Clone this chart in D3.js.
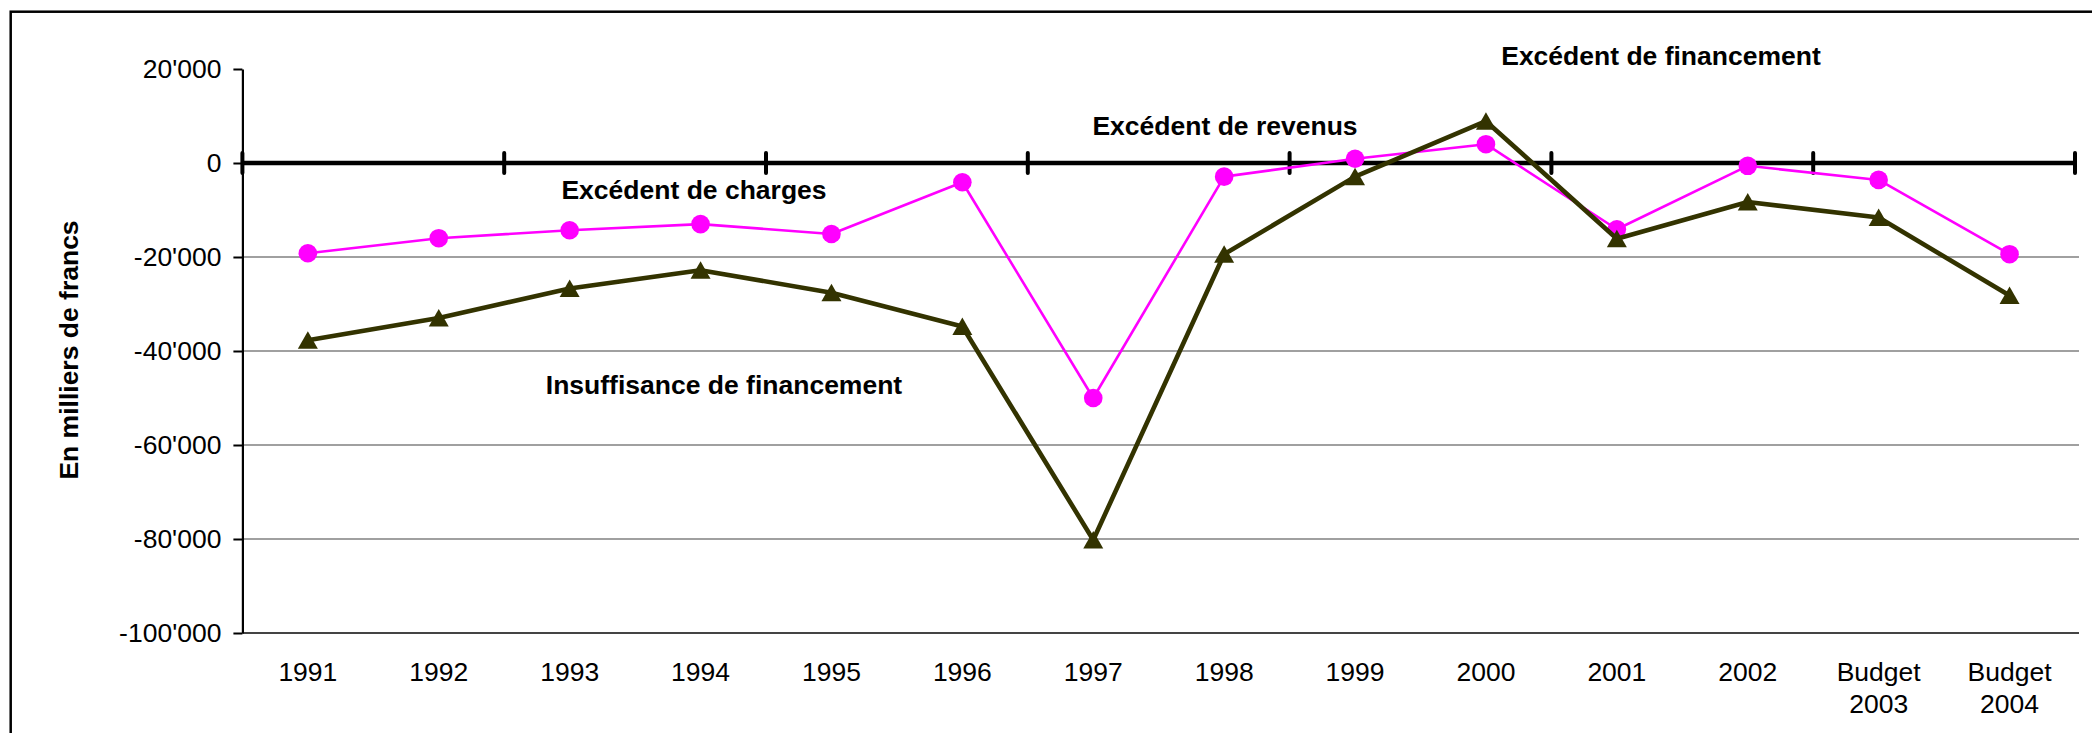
<!DOCTYPE html>
<html>
<head>
<meta charset="utf-8">
<script src="https://cdn.jsdelivr.net/npm/d3@7"></script>
<style>
    body { margin: 0; background: #fff; }
    svg { display: block; font-family: "Liberation Sans", Arial, sans-serif; }
</style>
</head>
<body>
<div id="chart"></div>
<script>
// Categories (x axis)
const categories = ["1991", "1992", "1993", "1994", "1995", "1996", "1997", "1998",
    "1999", "2000", "2001", "2002", "Budget 2003", "Budget 2004"];

// Excédent de revenus / charges (pink, circles)
const resultat = [-19200, -16000, -14300, -13000, -15100, -4100, -50000, -2900,
    900, 4000, -14100, -600, -3600, -19400];

// Excédent / insuffisance de financement (dark olive, triangles)
const financement = [-37700, -33000, -26700, -22800, -27600, -34800, -80200, -19400,
    -2900, 8900, -16100, -8300, -11600, -28200];

const yTicks = [20000, 0, -20000, -40000, -60000, -80000, -100000];
const yTitle = "En milliers de francs";

const labels = [
    { text: "Excédent de financement", x: 1661, y: 65 },
    { text: "Excédent de revenus", x: 1225, y: 135 },
    { text: "Excédent de charges", x: 694, y: 199 },
    { text: "Insuffisance de financement", x: 724, y: 394 }
];

const W = 2092, H = 733;
const plot = { left: 242.4, right: 2075, top: 69, bottom: 633 };

const svg = d3.select("#chart")
    .append("svg")
    .attr("width", W)
    .attr("height", H);

svg.append("rect").attr("width", W).attr("height", H).attr("fill", "#fff");

// outer frame (only top and left edges are visible)
svg.append("rect")
    .attr("x", 10.7).attr("y", 11.7)
    .attr("width", W + 20).attr("height", H + 20)
    .attr("fill", "none")
    .attr("stroke", "#000")
    .attr("stroke-width", 2.5);

// Scales
const x = d3.scaleBand()
    .domain(categories)
    .range([plot.left, plot.right])
    .padding(0);

const xIdx = d3.scaleLinear()
    .domain([0, categories.length])
    .range([plot.left, plot.right]);

const y = d3.scaleLinear()
    .domain([-100000, 20000])
    .range([plot.bottom, plot.top]);

const fmt = d3.formatLocale({ decimal: ".", thousands: "'", grouping: [3], currency: ["", ""], minus: "-" }).format(",");

// Gridlines
svg.append("g")
    .selectAll("line")
    .data(yTicks.filter(v => v < 0))
    .join("line")
    .attr("x1", plot.left)
    .attr("x2", plot.right + 4)
    .attr("y1", d => y(d))
    .attr("y2", d => y(d))
    .attr("stroke", d => d === -100000 ? "#444" : "#808080")
    .attr("stroke-width", d => d === -100000 ? 2 : 1.5);

// Y axis
const yAxis = svg.append("g")
    .attr("transform", `translate(${plot.left},0)`)
    .call(d3.axisLeft(y).tickValues(yTicks).tickFormat(fmt).tickSize(9).tickSizeOuter(0).tickPadding(12));

yAxis.select(".domain").attr("stroke", "#000").attr("stroke-width", 2.2);
yAxis.selectAll(".tick line").attr("stroke", "#000").attr("stroke-width", 2);
yAxis.selectAll(".tick text")
    .attr("font-size", 26.5)
    .attr("fill", "#000")
    .attr("font-family", "Liberation Sans, Arial, sans-serif");

// Zero line (category axis) with crossing ticks every two categories
const zero = svg.append("g");
zero.append("line")
    .attr("x1", plot.left)
    .attr("x2", plot.right)
    .attr("y1", y(0))
    .attr("y2", y(0))
    .attr("stroke", "#000")
    .attr("stroke-width", 4.5);

zero.selectAll(".ztick")
    .data(d3.range(0, categories.length + 1, 2))
    .join("line")
    .attr("class", "ztick")
    .attr("x1", d => xIdx(d))
    .attr("x2", d => xIdx(d))
    .attr("y1", y(0) - 10)
    .attr("y2", y(0) + 10)
    .attr("stroke", "#000")
    .attr("stroke-width", 4)
    .attr("stroke-linecap", "round");

// X labels
const xAxis = svg.append("g")
    .attr("transform", `translate(0,${plot.bottom})`)
    .call(d3.axisBottom(x).tickSize(0).tickPadding(29));

xAxis.select(".domain").remove();
xAxis.selectAll(".tick text")
    .attr("font-size", 26.5)
    .attr("fill", "#000")
    .attr("font-family", "Liberation Sans, Arial, sans-serif")
    .each(function(d) {
        const parts = d.split(" ");
        if (parts.length > 1) {
            const t = d3.select(this).text(null);
            parts.forEach((p, i) => {
                t.append("tspan")
                    .attr("x", 0)
                    .attr("dy", i === 0 ? "0.71em" : "1.2em")
                    .text(p);
            });
            t.attr("dy", null);
        }
    });

// Lines
const cx = (d, i) => x(categories[i]) + x.bandwidth() / 2;

const line = d3.line()
    .x((d, i) => cx(d, i))
    .y(d => y(d));

svg.append("path")
    .datum(resultat)
    .attr("fill", "none")
    .attr("stroke", "#FF00FF")
    .attr("stroke-width", 2.6)
    .attr("stroke-linejoin", "round")
    .attr("d", line);

svg.append("g")
    .selectAll("circle")
    .data(resultat)
    .join("circle")
    .attr("cx", (d, i) => cx(d, i))
    .attr("cy", d => y(d))
    .attr("r", 9.3)
    .attr("fill", "#FF00FF");

svg.append("path")
    .datum(financement)
    .attr("fill", "none")
    .attr("stroke", "#333300")
    .attr("stroke-width", 4.6)
    .attr("stroke-linejoin", "round")
    .attr("d", line);

svg.append("g")
    .selectAll("path")
    .data(financement)
    .join("path")
    .attr("transform", (d, i) => `translate(${cx(d, i)},${y(d)})`)
    .attr("d", "M0,-9L10,8.5L-10,8.5Z")
    .attr("fill", "#333300");

// Annotations
svg.append("g")
    .selectAll("text")
    .data(labels)
    .join("text")
    .attr("x", d => d.x)
    .attr("y", d => d.y)
    .attr("text-anchor", "middle")
    .attr("font-size", 26.5)
    .attr("font-weight", "bold")
    .attr("fill", "#000")
    .text(d => d.text);

// Y axis title
svg.append("text")
    .attr("transform", "translate(78,350) rotate(-90)")
    .attr("text-anchor", "middle")
    .attr("font-size", 26.5)
    .attr("font-weight", "bold")
    .attr("fill", "#000")
    .text(yTitle);
</script>
</body>
</html>
